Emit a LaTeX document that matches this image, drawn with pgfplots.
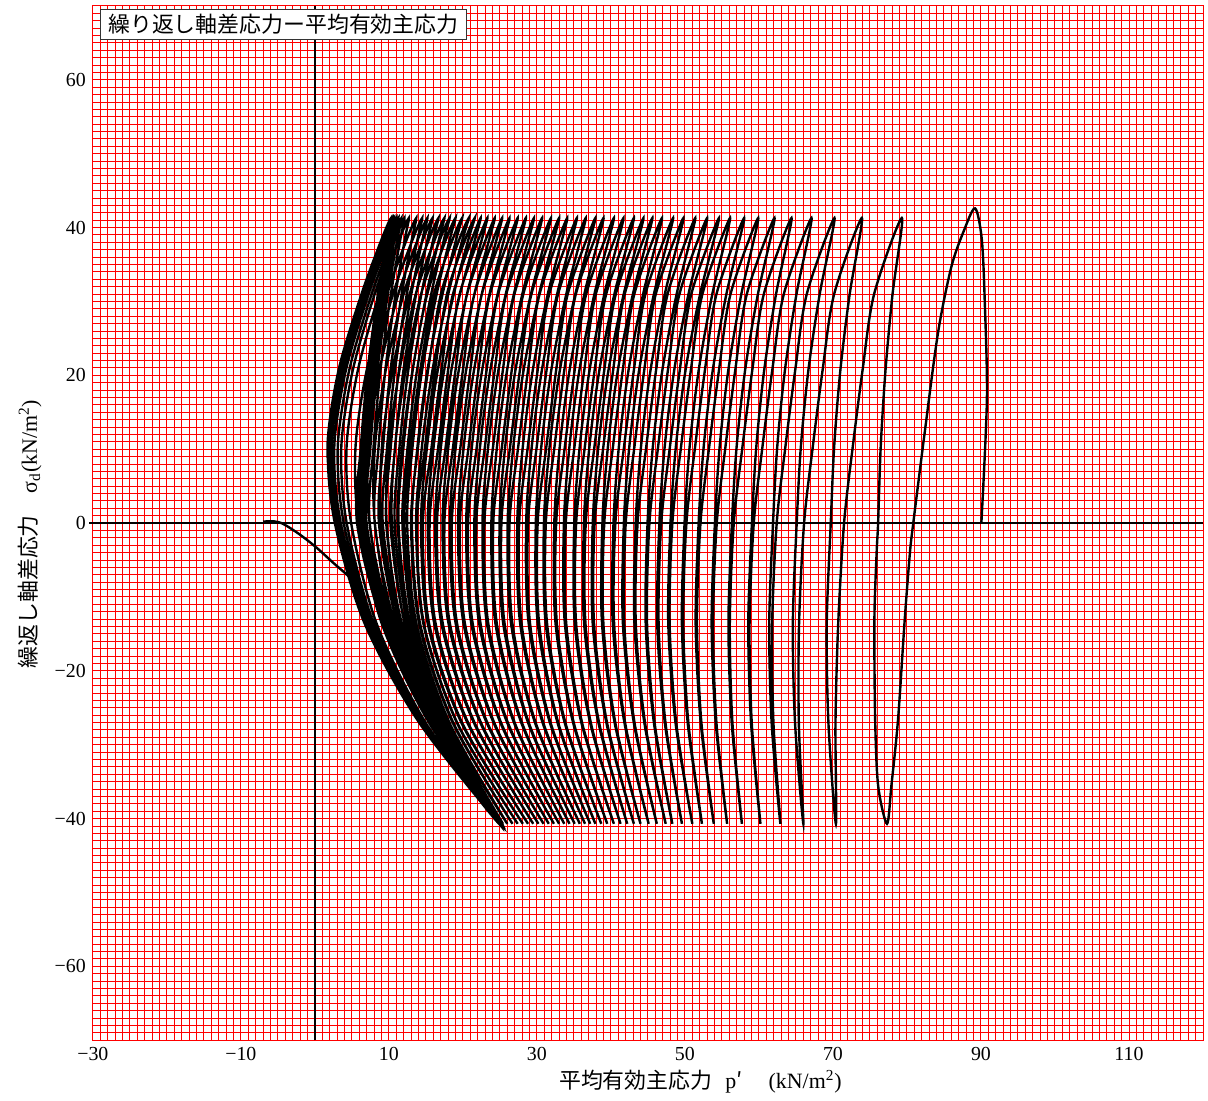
\documentclass[border=0pt]{standalone}
\usepackage{fontspec}
\setmainfont{Liberation Serif}
\newfontfamily\jp{Noto Sans CJK JP}
\usepackage{pgfplots}
\pgfplotsset{compat=1.18}
\usetikzlibrary{calc}

\begin{document}
\begin{tikzpicture}
\begin{axis}[
  name=main,
  scale only axis,
  width=556bp, height=518bp,
  xmin=-30, xmax=120, ymin=-70, ymax=70,
  xtick={-30,-10,10,30,50,70,90,110},
  xticklabels={−30,−10,10,30,50,70,90,110},
  ytick={-60,-40,-20,0,20,40,60},
  yticklabels={−60,−40,−20,0,20,40,60},
  minor xtick={-30,-29,...,120},
  minor ytick={-70,-69,...,70},
  grid=both,
  major grid style={red, line width=0.5bp},
  minor grid style={red, line width=0.5bp},
  major tick length=0pt, minor tick length=0pt,
  axis line style={red, line width=0.5bp},
  tick label style={font=\fontsize{10}{12}\selectfont},
  clip=false,
]
% reference axes through the origin
\draw[black, line width=0.75bp] (axis cs:0,-70) -- (axis cs:0,70);
\draw[black, line width=0.75bp] (axis cs:-30.5,0) -- (axis cs:120,0);

% stress path of the cyclic test
\addplot[black, line width=1.2bp, smooth, tension=0.5] coordinates {
(90.05,0) (90.8,16.8) (90.5,30.3) (90.1,38.5) (89.2,42.6) (87.7,39.6) (86.0,34.7) (84.2,25.8) (82.4,12.3) (80.85,0) (80.4,-4) (79.7,-13) (78.8,-26.5) (77.9,-35.5) (77.3,-40.7) (76.1,-35.5) (75.7,-26.5) (75.6,-13) (75.9,-4) (76.1,0) (76.45,10.3) (77.1,20.7) (78.05,31)
(79.3,41.3) (75.56,31) (74.0,20.7) (72.67,10.3) (71.5,0) (70.71,-13.6) (70.34,-27.1) (70.4,-40.7) (69.39,-27.1) (69.16,-13.6) (69.7,0) (70.16,10.3) (71.0,20.7) (72.26,31)
(73.9,41.3) (70.16,31) (68.6,20.7) (67.27,10.3) (66.1,0) (65.42,-13.6) (65.39,-27.1) (66.0,-40.7) (64.88,-27.1) (64.58,-13.6) (65.1,0) (65.66,10.3) (66.68,20.7) (68.21,31)
(70.2,41.3) (66.46,31) (64.9,20.7) (63.57,10.3) (62.4,0) (61.79,-13.6) (61.96,-27.1) (62.9,-40.7) (61.72,-27.1) (61.39,-13.6) (61.9,0) (62.47,10.3) (63.51,20.7) (65.07,31)
(67.1,41.3) (63.36,31) (61.8,20.7) (60.47,10.3) (59.3,0) (58.73,-13.6) (59.03,-27.1) (60.2,-40.7) (58.94,-27.1) (58.56,-13.6) (59.05,0) (59.64,10.3) (60.71,20.7) (62.31,31)
(64.4,41.3) (60.66,31) (59.1,20.7) (57.77,10.3) (56.6,0) (56.06,-13.6) (56.42,-27.1) (57.7,-40.7) (56.33,-27.1) (55.88,-13.6) (56.35,0) (56.98,10.3) (58.13,20.7) (59.86,31)
(62.1,41.3) (58.36,31) (56.8,20.7) (55.47,10.3) (54.3,0) (53.79,-13.6) (54.26,-27.1) (55.7,-40.7) (54.17,-27.1) (53.61,-13.6) (54.05,0) (54.69,10.3) (55.86,20.7) (57.62,31)
(59.9,41.3) (56.16,31) (54.6,20.7) (53.27,10.3) (52.1,0) (51.63,-13.6) (52.23,-27.1) (53.9,-40.7) (52.14,-27.1) (51.45,-13.6) (51.85,0) (52.53,10.3) (53.76,20.7) (55.6,31)
(58.0,41.3) (54.26,31) (52.7,20.7) (51.37,10.3) (50.2,0) (49.77,-13.6) (50.47,-27.1) (52.3,-40.7) (50.38,-27.1) (49.59,-13.6) (49.95,0) (50.63,10.3) (51.86,20.7) (53.7,31)
(56.1,41.3) (52.36,31) (50.8,20.7) (49.47,10.3) (48.3,0) (47.93,-13.6) (48.83,-27.1) (51.0,-40.7) (48.74,-27.1) (47.75,-13.6) (48.05,0) (48.77,10.3) (50.08,20.7) (52.05,31)
(54.6,41.3) (50.86,31) (49.3,20.7) (47.97,10.3) (46.8,0) (46.44,-13.6) (47.38,-27.1) (49.6,-40.7) (47.29,-27.1) (46.26,-13.6) (46.55,0) (47.26,10.3) (48.55,20.7) (50.48,31)
(53.0,41.3) (49.26,31) (47.7,20.7) (46.37,10.3) (45.2,0) (44.88,-13.6) (45.91,-27.1) (48.3,-40.7) (45.82,-27.1) (44.7,-13.6) (44.95,0) (45.66,10.3) (46.95,20.7) (48.88,31)
(51.4,41.3) (47.66,31) (46.1,20.7) (44.77,10.3) (43.6,0) (43.36,-13.6) (44.62,-27.1) (47.4,-40.7) (44.53,-27.1) (43.18,-13.6) (43.35,0) (44.06,10.3) (45.35,20.7) (47.28,31)
(49.8,41.3) (46.06,31) (44.5,20.7) (43.17,10.3) (42.0,0) (41.8,-13.6) (43.2,-27.1) (46.2,-40.7) (43.11,-27.1) (41.62,-13.6) (41.75,0) (42.48,10.3) (43.81,20.7) (45.81,31)
(48.4,41.3) (44.66,31) (43.1,20.7) (41.77,10.3) (40.6,0) (40.43,-13.6) (41.93,-27.1) (45.1,-40.7) (41.84,-27.1) (40.25,-13.6) (40.35,0) (41.07,10.3) (42.38,20.7) (44.35,31)
(46.9,41.3) (43.16,31) (41.6,20.7) (40.27,10.3) (39.1,0) (38.98,-13.6) (40.61,-27.1) (44.0,-40.7) (40.52,-27.1) (38.8,-13.6) (38.85,0) (39.59,10.3) (40.94,20.7) (42.97,31)
(45.6,41.3) (41.86,31) (40.3,20.7) (38.97,10.3) (37.8,0) (37.72,-13.6) (39.49,-27.1) (43.1,-40.7) (39.4,-27.1) (37.54,-13.6) (37.55,0) (38.3,10.3) (39.67,20.7) (41.73,31)
(44.4,41.3) (40.66,31) (39.1,20.7) (37.77,10.3) (36.6,0) (36.56,-13.6) (38.42,-27.1) (42.2,-40.7) (38.33,-27.1) (36.38,-13.6) (36.35,0) (37.09,10.3) (38.44,20.7) (40.47,31)
(43.1,41.3) (39.36,31) (37.8,20.7) (36.47,10.3) (35.3,0) (35.3,-13.6) (37.3,-27.1) (41.3,-40.7) (37.21,-27.1) (35.12,-13.6) (35.05,0) (35.78,10.3) (37.11,20.7) (39.11,31)
(41.7,41.3) (37.96,31) (36.4,20.7) (35.07,10.3) (33.9,0) (33.96,-13.6) (36.12,-27.1) (40.4,-40.7) (36.03,-27.1) (33.78,-13.6) (33.65,0) (34.39,10.3) (35.74,20.7) (37.77,31)
(40.4,41.3) (36.66,31) (35.1,20.7) (33.77,10.3) (32.6,0) (32.7,-13.6) (35.0,-27.1) (39.5,-40.7) (34.91,-27.1) (32.52,-13.6) (32.35,0) (33.08,10.3) (34.41,20.7) (36.41,31)
(39.0,41.3) (35.26,31) (33.7,20.7) (32.37,10.3) (31.2,0) (31.37,-13.6) (33.87,-27.1) (38.7,-40.7) (33.78,-27.1) (31.19,-13.6) (30.95,0) (31.71,10.3) (33.1,20.7) (35.19,31)
(37.9,41.3) (34.16,31) (32.6,20.7) (31.27,10.3) (30.1,0) (30.3,-13.6) (32.9,-27.1) (37.9,-40.7) (32.81,-27.1) (30.12,-13.6) (29.85,0) (30.59,10.3) (31.94,20.7) (33.97,31)
(36.6,41.3) (32.86,31) (31.3,20.7) (29.97,10.3) (28.8,0) (29.07,-13.6) (31.87,-27.1) (37.2,-40.7) (31.78,-27.1) (28.89,-13.6) (28.55,0) (29.3,10.3) (30.67,20.7) (32.73,31)
(35.4,41.3) (31.66,31) (30.1,20.7) (28.77,10.3) (27.6,0) (27.92,-13.6) (30.89,-27.1) (36.5,-40.7) (30.8,-27.1) (27.74,-13.6) (27.35,0) (28.09,10.3) (29.44,20.7) (31.47,31)
(34.1,41.3) (30.36,31) (28.8,20.7) (27.47,10.3) (26.3,0) (26.69,-13.6) (29.86,-27.1) (35.8,-40.7) (29.77,-27.1) (26.51,-13.6) (26.05,0) (26.81,10.3) (28.2,20.7) (30.29,31)
(33.0,41.3) (29.26,31) (27.7,20.7) (26.37,10.3) (25.2,0) (25.63,-13.6) (28.93,-27.1) (35.1,-40.7) (28.84,-27.1) (25.45,-13.6) (24.95,0) (25.71,10.3) (27.1,20.7) (29.19,31)
(31.9,41.3) (28.16,31) (26.6,20.7) (25.27,10.3) (24.1,0) (24.58,-13.6) (28.01,-27.1) (34.4,-40.7) (27.92,-27.1) (24.4,-13.6) (23.85,0) (24.6,10.3) (25.97,20.7) (28.03,31)
(30.7,41.3) (26.96,31) (25.4,20.7) (24.07,10.3) (22.9,0) (23.43,-13.6) (27.03,-27.1) (33.7,-40.7) (26.94,-27.1) (23.25,-13.6) (22.65,0) (23.41,10.3) (24.8,20.7) (26.89,31)
(29.6,41.3) (25.86,31) (24.3,20.7) (22.97,10.3) (21.8,0) (22.38,-13.6) (26.11,-27.1) (33.0,-40.7) (26.02,-27.1) (22.2,-13.6) (21.55,0) (22.31,10.3) (23.7,20.7) (25.79,31)
(28.5,41.3) (24.76,31) (23.2,20.7) (21.87,10.3) (20.7,0) (21.32,-13.6) (25.19,-27.1) (32.3,-40.7) (25.1,-27.1) (21.14,-13.6) (20.45,0) (21.21,10.3) (22.6,20.7) (24.69,31)
(27.4,41.3) (23.66,31) (22.1,20.7) (20.77,10.3) (19.6,0) (20.27,-13.6) (24.27,-27.1) (31.6,-40.7) (24.18,-27.1) (20.09,-13.6) (19.35,0) (20.11,10.3) (21.5,20.7) (23.59,31)
(26.3,41.3) (22.56,31) (21.0,20.7) (19.67,10.3) (18.5,0) (19.21,-13.6) (23.34,-27.1) (30.9,-40.7) (23.25,-27.1) (19.03,-13.6) (18.25,0) (19.03,10.3) (20.44,20.7) (22.55,31)
(25.3,41.3) (21.56,31) (20.0,20.7) (18.67,10.3) (17.5,0) (18.24,-13.6) (22.48,-27.1) (30.2,-40.7) (22.39,-27.1) (18.06,-13.6) (17.25,0) (18.03,10.3) (19.44,20.7) (21.55,31)
(24.3,41.3) (20.56,31) (19.0,20.7) (17.67,10.3) (16.5,0) (17.28,-13.6) (21.61,-27.1) (29.5,-40.7) (21.52,-27.1) (17.1,-13.6) (16.25,0) (17.03,10.3) (18.44,20.7) (20.55,31)
(23.3,41.3) (19.56,31) (18.0,20.7) (16.67,10.3) (15.5,0) (16.31,-13.6) (20.74,-27.1) (28.8,-40.7) (20.65,-27.1) (16.13,-13.6) (15.25,0) (16.04,10.3) (17.47,20.7) (19.61,31)
(22.4,41.3) (18.66,31) (17.1,20.7) (15.77,10.3) (14.6,0) (15.43,-13.6) (19.93,-27.1) (28.1,-40.7) (19.84,-27.1) (15.25,-13.6) (14.35,0) (15.15,10.3) (16.6,20.7) (18.77,31)
(20.77,38.5) (21.6,41.3) (20.35,38.5) (17.85,31) (16.23,20.7) (14.89,10.3) (13.8,0) (14.73,-13.6) (19.27,-27.1) (27.4,-40.7) (19.23,-27.1) (14.66,-13.6) (13.68,0) (14.46,10.3) (15.89,20.7) (18.02,31)
(19.98,38.5) (20.8,41.3) (19.55,38.5) (17.03,31) (15.29,20.7) (13.94,10.3) (13.0,0) (14.1,-13.6) (18.67,-27.1) (26.7,-40.7) (18.74,-27.1) (14.21,-13.6) (13.11,0) (13.86,10.3) (15.21,20.7) (17.25,31)
(19.12,38.5) (19.9,41.3) (18.65,38.5) (16.1,31) (14.24,20.7) (12.87,10.3) (12.1,0) (13.4,-13.6) (18.03,-27.1) (26.0,-40.7) (18.22,-27.1) (13.71,-13.6) (12.47,0) (13.19,10.3) (14.49,20.7) (16.45,31)
(18.25,38.5) (19.0,41.3) (17.75,38.5) (15.18,31) (13.2,20.7) (11.8,10.3) (11.2,0) (12.71,-13.6) (17.44,-27.1) (25.4,-40.7) (17.76,-27.1) (13.23,-13.6) (11.83,0) (12.53,10.3) (13.8,20.7) (15.72,31)
(17.47,38.5) (18.2,41.3) (16.95,38.5) (14.35,31) (12.25,20.7) (10.83,10.3) (10.4,0) (12.14,-13.6) (17.04,-27.1) (25.1,-40.7) (17.48,-27.1) (12.87,-13.6) (11.29,0) (11.97,10.3) (13.22,20.7) (15.08,31)
(16.79,38.5) (17.5,41.3) (16.25,38.5) (13.63,31) (11.43,20.7) (10.0,10.3) (9.7,0) (11.64,-13.6) (16.74,-27.1) (25.0,-40.7) (17.26,-27.1) (12.52,-13.6) (10.78,0) (11.43,10.3) (12.62,20.7) (14.39,31)
(16.02,38.5) (16.7,41.3) (15.45,38.5) (12.81,31) (10.5,20.7) (9.06,10.3) (8.9,0) (11.11,-13.6) (16.54,-27.1) (25.2,-40.7) (17.17,-27.1) (12.17,-13.6) (10.21,0) (10.84,10.3) (11.97,20.7) (13.68,31)
(15.25,38.5) (15.9,41.3) (14.65,38.5) (11.99,31) (9.57,20.7) (8.11,10.3) (8.1,0) (10.52,-13.6) (16.12,-27.1) (24.9,-40.7) (16.85,-27.1) (11.76,-13.6) (9.64,0) (10.25,10.3) (11.36,20.7) (13.03,31)
(14.56,38.5) (15.2,41.3) (13.95,38.5) (11.27,31) (8.74,20.7) (7.26,10.3) (7.4,0) (10.08,-13.6) (15.98,-27.1) (25.1,-40.7) (16.81,-27.1) (11.5,-13.6) (9.17,0) (9.76,10.3) (10.82,20.7) (12.42,31)
(13.89,38.5) (14.5,41.3) (13.25,38.5) (10.55,31) (7.93,20.7) (6.44,10.3) (6.7,0) (9.58,-13.6) (15.68,-27.1) (25.0,-40.7) (16.6,-27.1) (11.15,-13.6) (8.66,0) (9.21,10.3) (10.22,20.7) (11.73,31)
(13.12,38.5) (13.7,41.3) (12.45,38.5) (9.73,31) (7.0,20.7) (5.49,10.3) (5.9,0) (9.04,-13.6) (15.48,-27.1) (25.2,-40.7) (16.51,-27.1) (10.8,-13.6) (8.09,0) (8.6,10.3) (9.52,20.7) (10.9,31)
(12.17,38.5) (12.7,41.3) (11.45,38.5) (8.7,31) (5.81,20.7) (4.28,10.3) (4.9,0) (8.34,-13.6) (15.01,-27.1) (24.9,-40.7) (16.19,-27.1) (10.36,-13.6) (7.41,0) (7.93,10.3) (8.86,20.7) (10.27,31)
(11.56,38.5) (12.1,41.3) (10.85,38.5) (8.08,31) (5.12,20.7) (3.57,10.3) (4.3,0) (7.96,-13.6) (14.96,-27.1) (25.3,-40.7) (16.22,-27.1) (10.11,-13.6) (6.98,0) (7.5,10.3) (8.44,20.7) (9.86,31)
(11.16,38.5) (11.7,41.3) (10.45,38.5) (7.67,31) (4.64,20.7) (3.09,10.3) (3.9,0) (7.66,-13.6) (14.7,-27.1) (25.0,-40.7) (16.01,-27.1) (9.92,-13.6) (6.71,0) (7.21,10.3) (8.13,20.7) (9.51,31)
(10.77,38.5) (11.3,41.3) (10.05,38.5) (7.26,31) (4.19,20.7) (2.62,10.3) (3.5,0) (7.4,-13.6) (14.63,-27.1) (25.2,-40.7) (15.99,-27.1) (9.72,-13.6) (6.4,0) (6.91,10.3) (7.83,20.7) (9.21,31)
(10.47,38.5) (11.0,41.3) (9.75,38.5) (6.95,31) (3.83,20.7) (2.26,10.3) (3.2,0) (7.16,-13.6) (14.4,-27.1) (24.9,-40.7) (15.8,-27.1) (9.57,-13.6) (6.2,0) (6.7,10.3) (7.6,20.7) (8.95,31)
(10.18,38.5) (10.7,41.3) (9.45,38.5) (6.65,31) (3.53,20.7) (1.96,10.3) (2.9,0) (6.92,-13.6) (14.32,-27.1) (25.1,-40.7) (15.72,-27.1) (9.32,-13.6) (5.9,0) (6.41,10.3) (7.33,20.7) (8.71,31)
(9.97,38.5) (10.5,41.3) (9.25,38.5) (6.45,31) (3.33,20.7) (1.76,10.3) (2.7,0) (6.73,-13.6) (14.16,-27.1) (25.0,-40.7) (15.57,-27.1) (9.13,-13.6) (5.7,0) (6.21,10.3) (7.13,20.7) (8.51,31)
(9.77,38.5) (10.3,41.3) (9.05,38.5) (6.3,31) (3.2,20.7) (1.7,10.3) (2.8,0) (4.3,-6) (6.0,-9.4)
};
% final unloading branch towards negative p'
\addplot[black, line width=1.2bp, smooth, tension=0.5] coordinates {
(5.8,-8.9) (4.65,-7.3) (2.4,-5.3) (0.2,-3.3) (-2.1,-1.5) (-4.3,-0.1) (-5.6,0.25) (-7.0,0.2)
};
\end{axis}

% title box
\node[draw=black!80, fill=white, line width=0.5bp, inner xsep=4bp, inner ysep=2.5bp,
      anchor=north west, font=\fontsize{11}{13}\selectfont]
  at ($(main.north west)+(3.5bp,-1.5bp)$) {\jp 繰り返し軸差応力ー平均有効主応力};

% axis titles
\node[rotate=90, font=\fontsize{11}{13}\selectfont]
  at ($(main.west)+(-31.5bp,-5.5bp)$)
  {{\jp 繰返し軸差応力}\hspace{1em}σ\textsubscript{d}(kN/m\textsuperscript{2})};
\node[anchor=west, font=\fontsize{11}{13}\selectfont]
  at ($(main.south west)+(230bp,-20.5bp)$)
  {{\jp 平均有効主応力}\hspace{0.6em}p{\jp ′}\hspace{1.2em}(kN/m\textsuperscript{2})};

\pgfresetboundingbox
\useasboundingbox ($(main.south west)+(-46.5bp,-30bp)$) rectangle ($(main.north east)+(2.5bp,3bp)$);
\end{tikzpicture}
\end{document}
